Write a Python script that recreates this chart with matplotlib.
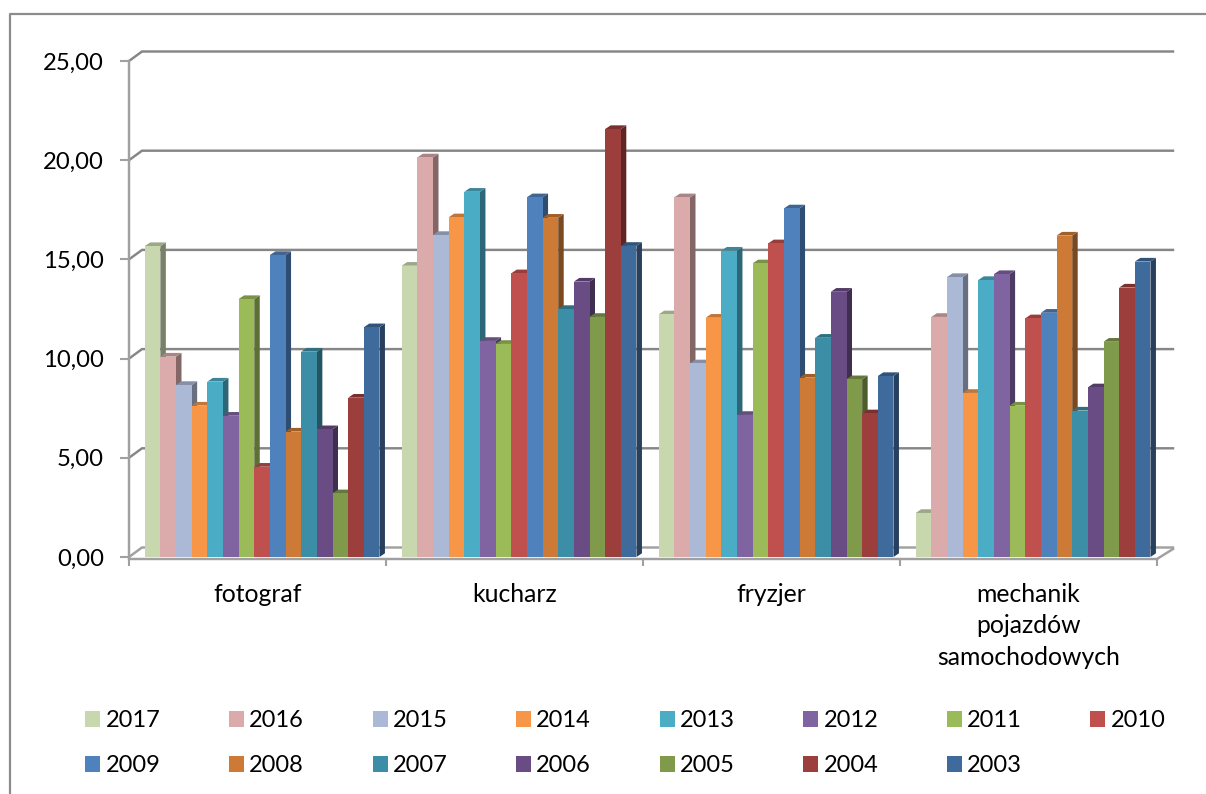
import numpy as np
import matplotlib
matplotlib.use("Agg")
import matplotlib.pyplot as plt
from matplotlib.colors import to_rgb
from matplotlib.lines import Line2D
from matplotlib.patches import Patch

plt.rcParams['font.family'] = ['Lato', 'DejaVu Sans']

categories = ['fotograf', 'kucharz', 'fryzjer', 'mechanik\npojazdów\nsamochodowych']
years = ['2017', '2016', '2015', '2014', '2013', '2012', '2011', '2010',
         '2009', '2008', '2007', '2006', '2005', '2004', '2003']
colors = ['#C8D7AE', '#DBABAB', '#ABB9D7', '#F79646', '#4BACC6', '#8064A2', '#9BBB59', '#C0504D',
          '#4F81BD', '#CC7A35', '#3B8EA5', '#6A4C85', '#809A4B', '#9C3E3C', '#3F6A9C']

fotograf = [15.67, 10.1, 8.67, 7.63, 8.84, 7.12, 13.0, 4.55, 15.22, 6.32, 10.35, 6.44, 3.21, 8.03, 11.58]
kucharz = [14.68, 20.14, 16.23, 17.12, 18.41, 10.89, 10.74, 14.3, 18.13, 17.1, 12.5, 13.88, 12.1, 21.57, 15.68]
fryzjer = [12.23, 18.13, 9.76, 12.06, 15.44, 7.16, 14.8, 15.81, 17.57, 9.04, 11.05, 13.37, 8.96, 7.24, 9.12]
mechanik = [2.22, 12.1, 14.11, 8.27, 13.96, 14.26, 7.63, 12.03, 12.31, 16.2, 7.38, 8.55, 10.85, 13.58, 14.89]
values = np.array([fotograf, kucharz, fryzjer, mechanik])

y_ticks = [0, 5, 10, 15, 20, 25]
y_labels = ['0,00', '5,00', '10,00', '15,00', '20,00', '25,00']

W, H = 1206, 794
fig = plt.figure(figsize=(W / 100, H / 100), dpi=100)
ax = fig.add_axes([129 / W, 1 - 557 / H, 1028 / W, 496 / H])
ax.set_xlim(0, 4)
ax.set_ylim(0, 25)
ax.patch.set_visible(False)

# size of one pixel in data units, the fake 3d depth is given in pixels
px = 4 / 1028
py = 25 / 496
axis_col = '#A0A0A0'
grid_col = '#868686'

# back wall lines
for v in y_ticks:
    ax.plot([0, 13 * px, 4 + 16 * px], [v, v + 9.5 * py, v + 9.5 * py], color=grid_col if v else axis_col,
            lw=1.75, clip_on=False, zorder=1, solid_joinstyle='miter')
ax.plot([4, 4 + 16 * px], [-2 * py, 8 * py], color=axis_col, lw=1.75, clip_on=False, zorder=1)

bar_w = 15.65 * px
dx = 5.5 * px
dy = 3.7 * py


def shade(c, f):
    return tuple(np.array(to_rgb(c)) * f)


for i, (year, col) in enumerate(zip(years, colors)):
    xs = np.arange(4) + 15.7 * px + i * bar_w
    hs = values[:, i]
    for x, h in zip(xs, hs):
        ax.fill([x + bar_w, x + bar_w + dx, x + bar_w + dx, x + bar_w], [0, dy, h + dy, h],
                color=shade(col, 0.6), lw=0, zorder=3 + i, clip_on=False)
        ax.fill([x, x + bar_w, x + bar_w + dx, x + dx], [h, h, h + dy, h + dy],
                color=shade(col, 0.78), lw=0, zorder=3 + i, clip_on=False)
    ax.bar(xs, hs, width=bar_w, align='edge', color=col, lw=0, zorder=3 + i, clip_on=False)

for s in ['top', 'right']:
    ax.spines[s].set_visible(False)
for s in ['left', 'bottom']:
    ax.spines[s].set_color(axis_col)
    ax.spines[s].set_linewidth(1.75)
ax.spines['bottom'].set_position(('outward', 1.5))

ax.set_yticks(y_ticks)
ax.set_yticklabels(y_labels)
ax.tick_params(axis='y', length=6.5, width=1.5, color=axis_col, pad=11.5, labelsize=17.2)
ax.set_xticks(np.arange(5))
ax.set_xticklabels([])
ax.tick_params(axis='x', which='major', length=5, width=1.5, color=axis_col)
ax.set_xticks(np.arange(4) + 0.5, minor=True)
ax.set_xticklabels(categories, minor=True, fontsize=17.8, linespacing=1.46)
ax.tick_params(axis='x', which='minor', length=0, pad=17)

# chart frame, runs off the right and bottom of the picture
fig.add_artist(Line2D([10 / W, 10 / W, 1], [0, 1 - 14 / H, 1 - 14 / H], color='#8C8C8C', lw=1.6))

# legend fills by column so swap order to read row by row
order = []
for k in range(8):
    order.append(k)
    if k + 8 < len(years):
        order.append(k + 8)
handles = [Patch(facecolor=colors[k], label=years[k]) for k in order]
fig.legend(handles=handles, ncol=8, loc='upper left', bbox_to_anchor=(76 / W, 1 - 701 / H),
           frameon=False, fontsize=17, handlelength=0.635, handleheight=0.635,
           handletextpad=0.22, columnspacing=2.9, labelspacing=1.0, borderaxespad=0)

fig.savefig('out.png', dpi=100)
